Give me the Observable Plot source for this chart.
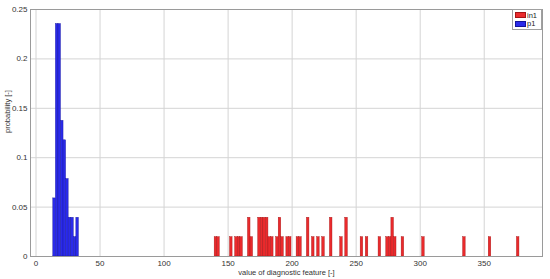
<!DOCTYPE html>
<html>
<head>
<meta charset="utf-8">
<script src="https://cdn.jsdelivr.net/npm/d3@7"></script>
<script src="https://cdn.jsdelivr.net/npm/@observablehq/plot@0.6"></script>
<style>
  html, body { margin: 0; padding: 0; background: #fff; }
  #wrap { position: relative; width: 550px; height: 279px; font-family: "Liberation Sans", Arial, sans-serif; }
  #legend { position: absolute; left: 512px; top: 9px; width: 28px; padding: 1px 0 1px 0; background: #fff; border: 1px solid #a0a0a0; font-size: 7.5px; color: #222; }
  #legend .row { display: flex; align-items: center; height: 8.5px; }
  #legend .sw { width: 11px; height: 6px; margin: 0 1px 0 2px; box-sizing: border-box; }
</style>
</head>
<body>
<div id="wrap"></div>
<script>
// Histogram bins: left edges (width binWidth) and probabilities
const binWidth = 2;
const blueX0 = [13.5, 15.5, 17.5, 19.5, 21.5, 23.5, 25.5, 27.5, 29.5, 31.5];
const blueP  = [0.0588, 0.2353, 0.2353, 0.1373, 0.1176, 0.0784, 0.0392, 0.0392, 0.0196, 0.0392];
const redX0 = [139.5, 141.5, 151.5, 155.5, 157.5, 159.5, 165.5, 167.5, 173.5, 175.5,
               177.5, 179.5, 181.5, 183.5, 187.5, 189.5, 191.5, 195.5, 197.5, 203.5,
               205.5, 211.5, 215.5, 219.5, 223.5, 229.5, 237.5, 241.5, 253.5, 257.5,
               267.5, 273.5, 275.5, 277.5, 279.5, 285.5, 301.5, 333.5, 353.5, 375.5];
const redP  = [0.0196, 0.0196, 0.0196, 0.0196, 0.0196, 0.0196, 0.0392, 0.0196, 0.0392, 0.0392,
               0.0392, 0.0392, 0.0196, 0.0196, 0.0196, 0.0392, 0.0196, 0.0196, 0.0196, 0.0196,
               0.0196, 0.0392, 0.0196, 0.0196, 0.0196, 0.0392, 0.0196, 0.0392, 0.0196, 0.0196,
               0.0196, 0.0196, 0.0196, 0.0392, 0.0196, 0.0196, 0.0196, 0.0196, 0.0196, 0.0196];
const xTicks = [0, 50, 100, 150, 200, 250, 300, 350];
const yTicks = [0, 0.05, 0.1, 0.15, 0.2, 0.25];
const seriesNames = ["in1", "p1"];
const seriesColors = ["#ea2a2c", "#2a2aea"];
const xLabel = "value of diagnostic feature [-]";
const yLabel = "probability [-]";

const red = redX0.map((x0, i) => ({x0, x1: x0 + binWidth, p: redP[i]}));
const blue = blueX0.map((x0, i) => ({x0, x1: x0 + binWidth, p: blueP[i]}));

const chart = Plot.plot({
  width: 550,
  height: 279,
  marginLeft: 30,
  marginRight: 8,
  marginTop: 9,
  marginBottom: 23,
  style: {fontFamily: '"Liberation Sans", Arial, sans-serif', fontSize: "8px", background: "#fff", color: "#333"},
  x: {domain: [-4.3, 395.5]},
  y: {domain: [0, 0.25]},
  marks: [
    Plot.gridX(xTicks, {stroke: "#d4d4d4", strokeOpacity: 1}),
    Plot.gridY(yTicks, {stroke: "#d4d4d4", strokeOpacity: 1}),
    Plot.rectY(red, {x1: "x0", x2: "x1", y: "p", fill: seriesColors[0], stroke: "#a41416", strokeWidth: 0.4, inset: 0}),
    Plot.rectY(blue, {x1: "x0", x2: "x1", y: "p", fill: seriesColors[1], stroke: "#14149a", strokeWidth: 0.4, inset: 0}),
    Plot.frame({stroke: "#9a9a9a"}),
    Plot.axisX(xTicks, {tickSize: 0, tickPadding: 4, label: null, tickFormat: d => String(d), fill: "#333"}),
    Plot.axisY(yTicks, {tickSize: 0, tickPadding: 3, label: null, tickFormat: d => String(d), fill: "#333"}),
    Plot.text([xLabel], {frameAnchor: "bottom", dy: 16, lineAnchor: "middle", fontSize: 7.5, fill: "#333"}),
    Plot.text([yLabel], {frameAnchor: "left", dx: -23, rotate: -90, lineAnchor: "middle", fontSize: 7.5, fill: "#333"})
  ]
});

const wrap = document.getElementById("wrap");
wrap.appendChild(chart);

const legend = document.createElement("div");
legend.id = "legend";
seriesNames.forEach((name, i) => {
  const row = document.createElement("div");
  row.className = "row";
  const sw = document.createElement("div");
  sw.className = "sw";
  sw.style.background = seriesColors[i];
  sw.style.border = "0.5px solid " + (i === 0 ? "#a41416" : "#14149a");
  const t = document.createElement("span");
  t.textContent = name;
  row.appendChild(sw);
  row.appendChild(t);
  legend.appendChild(row);
});
wrap.appendChild(legend);
</script>
</body>
</html>
